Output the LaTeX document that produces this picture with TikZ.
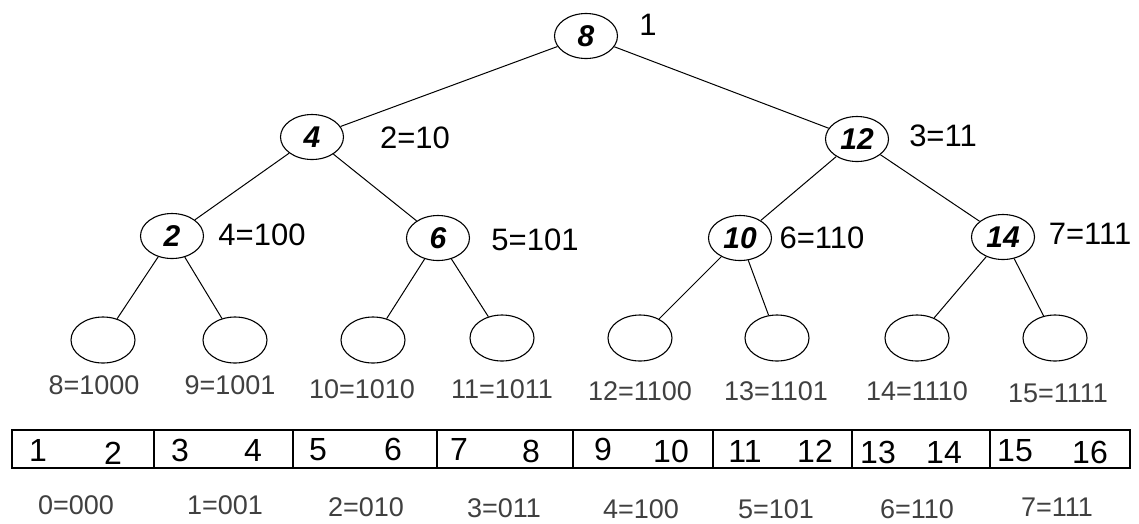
\documentclass[tikz,border=0pt]{standalone}
\usepackage{fontspec}
\setmainfont{Liberation Sans}
\usetikzlibrary{shapes.geometric}
\begin{document}
\begin{tikzpicture}[x=1pt,y=-1pt,
  inner/.style={draw,ellipse,line width=1.1pt,minimum width=63pt,minimum height=45pt,inner sep=0pt,font=\fontsize{30}{32}\selectfont\bfseries\itshape},
  leaf/.style={draw,ellipse,line width=1.1pt,minimum width=64pt,minimum height=46pt,inner sep=0pt},
  lab/.style={font=\fontsize{31}{33}\selectfont,inner sep=0pt},
  leaflab/.style={font=\fontsize{27}{29}\selectfont,text=black!75,inner sep=0pt},
  cell/.style={font=\fontsize{32}{34}\selectfont,inner sep=0pt},
  edge/.style={line width=1pt}]
\useasboundingbox (0,0) rectangle (1139,523);
\fill[white] (0,0) rectangle (1139,523);
% inner nodes
\node[inner] (n8) at (586,36) {8};
\node[inner] (n4) at (312,137) {4};
\node[inner] (n12) at (857,139) {12};
\node[inner] (n2) at (172,236) {2};
\node[inner] (n6) at (438,238) {6};
\node[inner] (n10) at (740,238) {10};
\node[inner] (n14) at (1003,237) {14};
% leaves
\node[leaf] (l1) at (103,340) {};
\node[leaf] (l2) at (235,340) {};
\node[leaf] (l3) at (373,340) {};
\node[leaf] (l4) at (502,338) {};
\node[leaf] (l5) at (640,338) {};
\node[leaf] (l6) at (777,338) {};
\node[leaf] (l7) at (917,338) {};
\node[leaf] (l8) at (1055,338) {};
% edges
\draw[edge] (n8) -- (n4);
\draw[edge] (n8) -- (n12);
\draw[edge] (n4) -- (n2);
\draw[edge] (n4) -- (n6);
\draw[edge] (n12) -- (n10);
\draw[edge] (n12) -- (n14);
\draw[edge] (n2) -- (l1);
\draw[edge] (n2) -- (l2);
\draw[edge] (n6) -- (l3);
\draw[edge] (n6) -- (l4);
\draw[edge] (n10) -- (l5);
\draw[edge] (n10) -- (l6);
\draw[edge] (n14) -- (l7);
\draw[edge] (n14) -- (l8);
% labels
\node[lab] (t1) at (648,25) {1};
\node[lab] (t2) at (415,138) {2=10};
\node[lab] (t3) at (943,136) {3=11};
\node[lab] (t4) at (262,235) {4=100};
\node[lab] (t5) at (535,240) {5=101};
\node[lab] (t6) at (822,238) {6=110};
\node[lab] (t7) at (1090,234) {7=111};
% leaf labels
\node[leaflab] (s8) at (94,385) {8=1000};
\node[leaflab] (s9) at (230,385) {9=1001};
\node[leaflab] (s10) at (362,389) {10=1010};
\node[leaflab] (s11) at (502,389) {11=1011};
\node[leaflab] (s12) at (640,391) {12=1100};
\node[leaflab] (s13) at (776,391) {13=1101};
\node[leaflab] (s14) at (917,391) {14=1110};
\node[leaflab] (s15) at (1058,393) {15=1111};
% array
\draw[line width=1.4pt] (12,430) rectangle (1130,468);
\foreach \x/\w in {154/1.4,293/1.9,437/1.9,573/1.4,713/1.9,852/1.4,990/1.4}
  \draw[line width=\w pt] (\x,430) -- (\x,468);
\node[cell] (c1) at (38,450) {1};
\node[cell] (c2) at (113,453) {2};
\node[cell] (c3) at (180,450) {3};
\node[cell] (c4) at (253,450) {4};
\node[cell] (c5) at (318,450) {5};
\node[cell] (c6) at (393,449) {6};
\node[cell] (c7) at (459,449) {7};
\node[cell] (c8) at (531,451) {8};
\node[cell] (c9) at (603,449) {9};
\node[cell] (c10) at (671,451) {10};
\node[cell] (c11) at (745,451) {11};
\node[cell] (c12) at (815,451) {12};
\node[cell] (c13) at (878,452) {13};
\node[cell] (c14) at (944,452) {14};
\node[cell] (c15) at (1015,451) {15};
\node[cell] (c16) at (1090,452) {16};
% bottom labels
\node[leaflab] (b0) at (76,505) {0=000};
\node[leaflab] (b1) at (225,505) {1=001};
\node[leaflab] (b2) at (366,507) {2=010};
\node[leaflab] (b3) at (504,508) {3=011};
\node[leaflab] (b4) at (641,509) {4=100};
\node[leaflab] (b5) at (776,509) {5=101};
\node[leaflab] (b6) at (917,509) {6=110};
\node[leaflab] (b7) at (1057,507) {7=111};
\end{tikzpicture}
\end{document}
